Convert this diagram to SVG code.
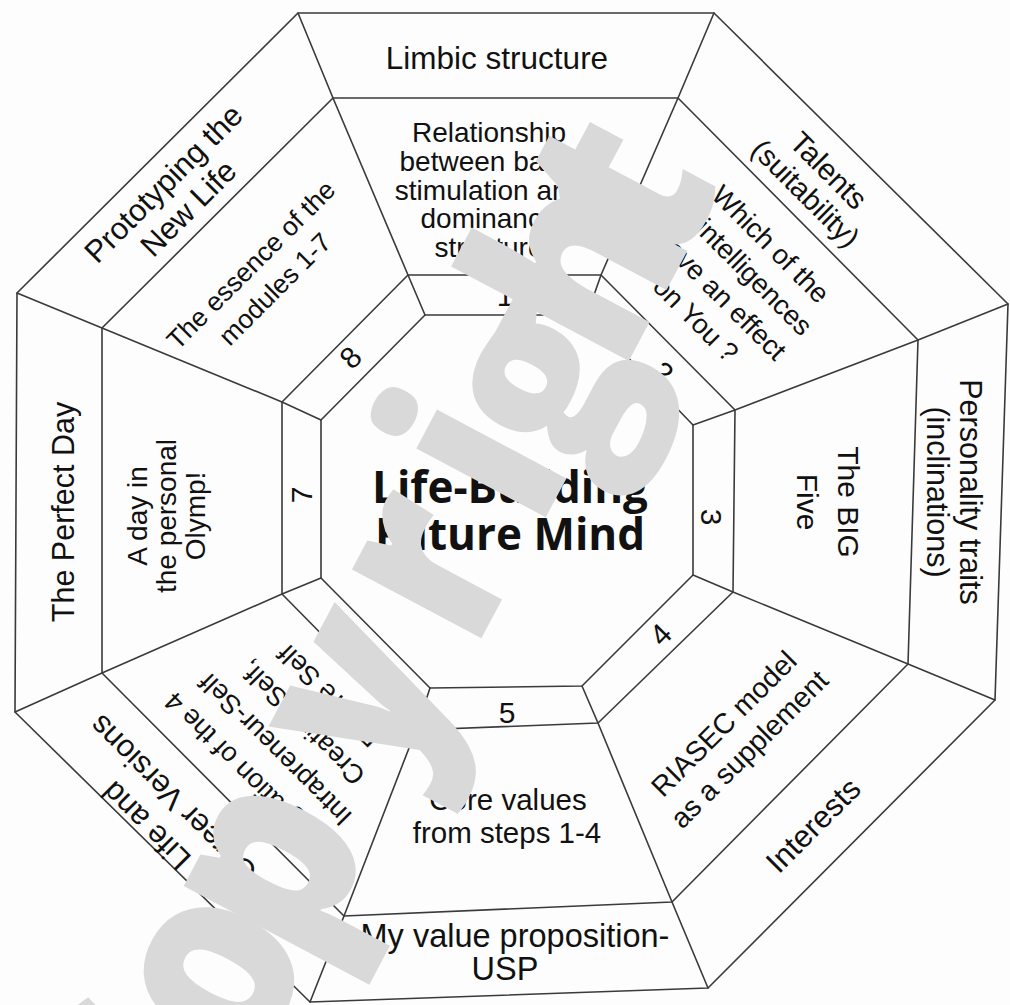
<svg xmlns="http://www.w3.org/2000/svg" width="1010" height="1005" viewBox="0 0 1010 1005">
<style>
.ln{fill:none;stroke:#3a3a3a;stroke-width:1.6;stroke-linejoin:round;stroke-linecap:round}
.t{font-family:"Liberation Sans",Arial,sans-serif;fill:#111;text-anchor:middle}
.o{font-size:31px}
.d{font-size:28px}
.n{font-size:30px}
.title{font-family:"Open Sans","Noto Sans",sans-serif;font-weight:700;font-size:44px;fill:#111;text-anchor:middle}
.wm{font-family:"Open Sans","Noto Sans",sans-serif;font-weight:800;font-size:265px;fill:#d9d9d9}
</style>
<rect width="1010" height="1005" fill="#fdfdfd"/>
<g id="connectors">
<polygon class="ln" points="298,13 714,13 1008,304 995,700 708,988 310,1002 15,712 17,293"/>
<polygon class="ln" points="333,98 678,98 918,340 908,664 672,902 344,916 102,673 102,328"/>
<polygon class="ln" points="408,275 601,275 735,410 733,592 598,723 416,730 282,594 282,402"/>
<polygon class="ln" points="425,315 587,315 693,425 693,575 582,686 430,688 321,578 321,420"/>
<polyline class="ln" points="298,13 333,98 408,275 425,315"/>
<polyline class="ln" points="714,13 678,98 601,275 587,315"/>
<polyline class="ln" points="1008,304 918,340 735,410 693,425"/>
<polyline class="ln" points="995,700 908,664 733,592 693,575"/>
<polyline class="ln" points="708,988 672,902 598,723 582,686"/>
<polyline class="ln" points="310,1002 344,916 416,730 430,688"/>
<polyline class="ln" points="15,712 102,673 282,594 321,578"/>
<polyline class="ln" points="17,293 102,328 282,402 321,420"/>
</g>
<g id="center"><text class="title" x="510" y="503">Life-Building</text><text class="title" x="510" y="550">Future Mind</text></g>
<g id="m1">
<text class="t" style="font-size:31.5px" x="497" y="69">Limbic structure</text>
<text class="t d" x="489" y="142">Relationship</text>
<text class="t d" x="489" y="171">between basic</text>
<text class="t d" x="489" y="200">stimulation and</text>
<text class="t d" x="489" y="228">dominance</text>
<text class="t d" x="489" y="257">structure</text>
<text class="t n" x="505" y="306">1</text>
</g>
<g id="m2">
<g transform="translate(817,182) rotate(45)"><text class="t" style="font-size:30px" y="-6">Talents</text><text class="t" style="font-size:29px" y="26">(suitability)</text></g>
<g transform="translate(733,282) rotate(45)"><text class="t" style="font-size:27.5px" y="-44">Which of the</text><text class="t" style="font-size:27.5px" y="-9">7 intelligences</text><text class="t" style="font-size:27.5px" y="27">have an effect</text><text class="t" style="font-size:27.5px" y="62">on You ?</text></g>
<text class="t n" transform="translate(663,372) rotate(45)" y="11">2</text>
</g>
<g id="m3">
<g transform="translate(953,492) rotate(90)"><text class="t" style="font-size:30.5px" y="-7">Personality traits</text><text class="t" style="font-size:30.5px" y="26">(inclinations)</text></g>
<g transform="translate(829,502) rotate(90)"><text class="t" style="font-size:30px" y="-9">The BIG</text><text class="t" style="font-size:30px" y="32">Five</text></g>
<text class="t n" transform="translate(712,517) rotate(90)" y="11">3</text>
</g>
<g id="m4">
<text class="t o" transform="translate(813,825) rotate(-45)" y="11">Interests</text>
<g transform="translate(737,737) rotate(-45)"><text class="t" style="font-size:28.5px" y="-9">RIASEC model</text><text class="t" style="font-size:28.5px" y="27">as a supplement</text></g>
<text class="t n" transform="translate(660,634) rotate(-45)" y="11">4</text>
</g>
<g id="m5">
<text class="t" style="font-size:32.5px" x="515" y="947">My value proposition-</text>
<text class="t" style="font-size:32.5px" x="505" y="980">USP</text>
<text class="t" style="font-size:29.5px" x="508" y="810">Core values</text>
<text class="t" style="font-size:29.5px" x="507" y="843">from steps 1-4</text>
<text class="t n" x="507" y="723">5</text>
</g>
<g id="m6">
<g transform="translate(160,812) rotate(225)"><text class="t o" y="-9">Life and</text><text class="t o" y="29">Career Versions</text></g>
<g transform="translate(289,736) rotate(225)" class="t" style="font-size:27px"><text y="-48">Integration of the 4</text><text y="-10">Intrapreneur-Self</text><text y="28">Creative-Self,</text><text y="66">Future Self</text></g>
</g>
<g id="m7">
<text class="t" style="font-size:30.5px" transform="translate(63,512) rotate(-90)" y="11">The Perfect Day</text>
<g transform="translate(167,516) rotate(-90)"><text class="t d" y="-20">A day in</text><text class="t d" y="9">the personal</text><text class="t d" y="38">Olymp!</text></g>
<text class="t n" transform="translate(301,495) rotate(-90)" y="11">7</text>
</g>
<g id="m8">
<g transform="translate(176,196) rotate(-45)"><text class="t o" y="-7">Prototyping the</text><text class="t o" y="28">New Life</text></g>
<g transform="translate(263,277) rotate(-45)"><text class="t" style="font-size:26.5px" y="-8">The essence of the</text><text class="t" style="font-size:26.5px" y="26">modules 1-7</text></g>
<text class="t n" transform="translate(350,357) rotate(-45)" y="11">8</text>
</g>
<text class="wm" transform="translate(179,1207) rotate(-62) scale(0.87,1)" dx="0 0 -30 55 25 33 -13 -30 -50" dy="0 0 0 0 0 0 15 -15 0">Copyright</text>
</svg>
